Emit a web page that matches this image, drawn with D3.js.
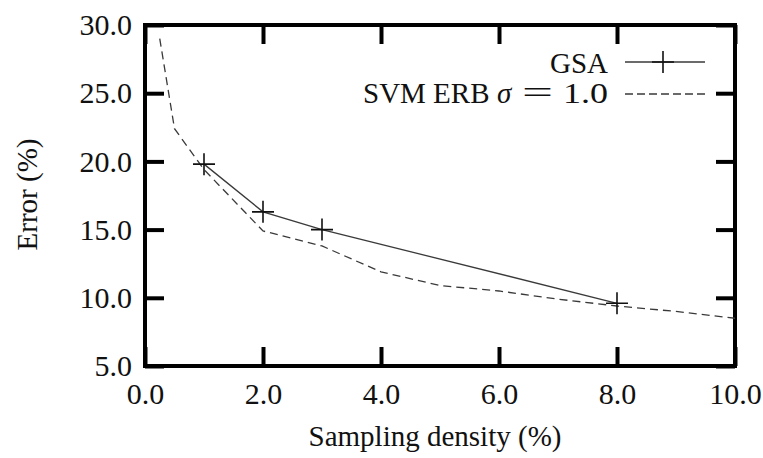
<!DOCTYPE html>
<html>
<head>
<meta charset="utf-8">
<script src="https://cdn.jsdelivr.net/npm/d3@7"></script>
<style>
  body { margin: 0; background: #fff; }
  text { font-family: "Liberation Serif", "DejaVu Serif", serif; fill: #111; }
</style>
</head>
<body>
<div id="chart"></div>
<script>
// values
var gsaX = [1.0, 2.0, 3.0, 8.0]
var gsaY = [19.8, 16.3, 15.0, 9.6]
var svmX = [0.25, 0.5, 1.0, 2.0, 3.0, 4.0, 5.0, 6.0, 7.0, 8.0, 9.0, 10.0]
var svmY = [29.0, 22.4, 19.4, 14.9, 13.8, 11.9, 10.9, 10.5, 9.9, 9.4, 9.0, 8.5]
var xTicks = [0, 2, 4, 6, 8, 10]
var yTicks = [5, 10, 15, 20, 25, 30]
var seriesNames = ["GSA", "SVM ERB"]

var W = 763, H = 458
var plotL = 145, plotT = 25, plotR = 735, plotB = 366
var fontSize = 29

var x = d3.scaleLinear().domain([0, 10]).range([plotL, plotR])
var y = d3.scaleLinear().domain([5, 30]).range([plotB, plotT])
var fmt = d3.format(".1f")

var svg = d3.select("#chart").append("svg")
    .attr("width", W)
    .attr("height", H)

var lineColor = "#3a3a3a"

// axes, ticks pointing inward
var axisStyle = g => {
    g.select(".domain").remove()
    g.selectAll("line").attr("stroke", "#000").attr("stroke-width", 4)
    g.selectAll("text").style("font-size", "30px").style("font-family", "Liberation Serif").attr("fill", "#111")
}

svg.append("g")
    .attr("transform", `translate(0,${plotB})`)
    .call(d3.axisBottom(x).tickValues(xTicks).tickFormat(fmt).tickSize(-19).tickPadding(17))
    .call(axisStyle)

svg.append("g")
    .attr("transform", `translate(0,${plotT})`)
    .call(d3.axisTop(x).tickValues(xTicks).tickFormat("").tickSize(-19))
    .call(axisStyle)

svg.append("g")
    .attr("transform", `translate(${plotL},0)`)
    .call(d3.axisLeft(y).tickValues(yTicks).tickFormat(fmt).tickSize(-19).tickPadding(13))
    .call(axisStyle)

svg.append("g")
    .attr("transform", `translate(${plotR},0)`)
    .call(d3.axisRight(y).tickValues(yTicks).tickFormat("").tickSize(-19))
    .call(axisStyle)

// frame
svg.append("rect")
    .attr("x", plotL).attr("y", plotT)
    .attr("width", plotR - plotL).attr("height", plotB - plotT)
    .attr("fill", "none").attr("stroke", "#000").attr("stroke-width", 4)

var line = d3.line()
    .x(d => x(d[0]))
    .y(d => y(d[1]))

var gsa = gsaX.map((v, i) => [v, gsaY[i]])
var svm = svmX.map((v, i) => [v, svmY[i]])

svg.append("path")
    .attr("d", line(svm))
    .attr("fill", "none")
    .attr("stroke", lineColor)
    .attr("stroke-width", 1.3)
    .attr("stroke-dasharray", "8,5")

svg.append("path")
    .attr("d", line(gsa))
    .attr("fill", "none")
    .attr("stroke", lineColor)
    .attr("stroke-width", 1.3)

var plus = (g, cx, cy) => {
    g.append("path")
        .attr("d", `M${cx - 11},${cy}H${cx + 11}M${cx},${cy - 11}V${cy + 11}`)
        .attr("stroke", "#111")
        .attr("stroke-width", 1.6)
}

var marks = svg.append("g")
gsa.forEach(d => plus(marks, x(d[0]), y(d[1])))

// legend
var legend = svg.append("g")
var lx1 = 625, lx2 = 705, textX = 608

legend.append("text")
    .attr("x", textX).attr("y", 73)
    .attr("text-anchor", "end")
    .style("font-size", fontSize + "px")
    .text(seriesNames[0])

legend.append("line")
    .attr("x1", lx1).attr("x2", lx2)
    .attr("y1", 62).attr("y2", 62)
    .attr("stroke", lineColor).attr("stroke-width", 1.3)
plus(legend, 663, 62)

// second entry set like TeX math: wider spacing round "="
var ly2 = 103
legend.append("text")
    .attr("x", 363).attr("y", ly2)
    .style("font-size", fontSize + "px")
    .text(seriesNames[1])
legend.append("text")
    .attr("x", 497).attr("y", ly2)
    .style("font-size", fontSize + "px")
    .style("font-style", "italic")
    .text("σ")
legend.append("text")
    .attr("x", 522).attr("y", ly2)
    .attr("textLength", 31)
    .attr("lengthAdjust", "spacingAndGlyphs")
    .style("font-size", "32px")
    .text("=")
legend.append("text")
    .attr("x", 563).attr("y", ly2)
    .attr("textLength", 45)
    .attr("lengthAdjust", "spacingAndGlyphs")
    .style("font-size", "30px")
    .text("1.0")

legend.append("line")
    .attr("x1", lx1).attr("x2", lx2)
    .attr("y1", 94).attr("y2", 94)
    .attr("stroke", lineColor).attr("stroke-width", 1.3)
    .attr("stroke-dasharray", "8,4")

// axis titles
svg.append("text")
    .attr("x", (plotL + plotR) / 2 - 5).attr("y", 446)
    .attr("text-anchor", "middle")
    .style("font-size", fontSize + "px")
    .text("Sampling density (%)")

svg.append("text")
    .attr("transform", `translate(37,${(plotT + plotB) / 2 - 1}) rotate(-90)`)
    .attr("text-anchor", "middle")
    .style("font-size", fontSize + "px")
    .text("Error (%)")
</script>
</body>
</html>
